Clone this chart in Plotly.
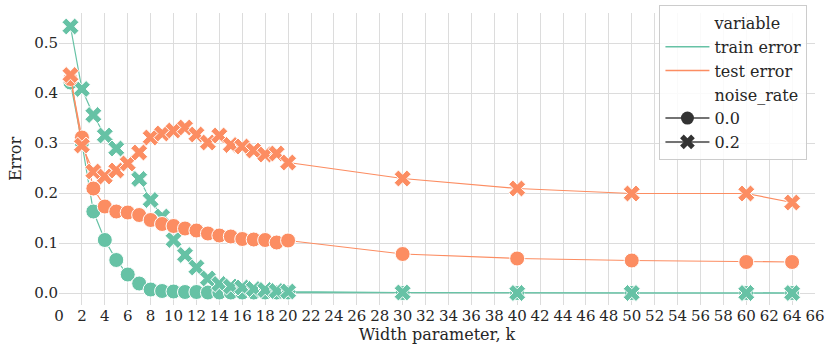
import plotly.graph_objects as go

k = [1, 2, 3, 4, 5, 6, 7, 8, 9, 10, 11, 12, 13, 14, 15, 16, 17, 18, 19, 20, 30, 40, 50, 60, 64]

train_n00 = [0.421, 0.300, 0.163, 0.106, 0.066, 0.037, 0.019, 0.007, 0.004, 0.003, 0.002, 0.002, 0.001,
             0.001, 0.001, 0.001, 0.001, 0.001, 0.001, 0.001, 0.0, 0.0, 0.0, 0.0, 0.0]
train_n02 = [0.533, 0.408, 0.356, 0.315, 0.289, 0.260, 0.228, 0.186, 0.153, 0.106, 0.076, 0.051, 0.029,
             0.018, 0.013, 0.011, 0.008, 0.006, 0.004, 0.003, 0.001, 0.0, 0.0, 0.0, 0.0]
test_n00 = [0.428, 0.311, 0.209, 0.173, 0.163, 0.161, 0.156, 0.146, 0.138, 0.134, 0.129, 0.125, 0.119,
            0.115, 0.113, 0.108, 0.107, 0.106, 0.101, 0.105, 0.078, 0.069, 0.065, 0.062, 0.062]
test_n02 = [0.436, 0.295, 0.243, 0.233, 0.245, 0.259, 0.281, 0.311, 0.319, 0.325, 0.331, 0.317, 0.301,
            0.315, 0.296, 0.293, 0.285, 0.277, 0.279, 0.261, 0.229, 0.209, 0.199, 0.199, 0.181]

GREEN = "#66c2a5"
ORANGE = "#fc8d62"
FONT = "DejaVu Serif"

series = [
    (train_n00, GREEN, "circle"),
    (train_n02, GREEN, "x"),
    (test_n00, ORANGE, "circle"),
    (test_n02, ORANGE, "x"),
]

fig = go.Figure()
for vals, color, sym in series:
    fig.add_trace(go.Scatter(
        x=k, y=vals, mode="lines+markers", showlegend=False,
        line=dict(color=color, width=1.2),
        marker=dict(color=color, symbol=sym, size=15, line=dict(color="white", width=1)),
    ))

# legend entries (seaborn style)
def legend_item(name, color="rgba(0,0,0,0)", sym=None, mode="lines"):
    m = dict(symbol=sym, size=13, color="#333333") if sym else None
    fig.add_trace(go.Scatter(
        x=[None], y=[None], mode=mode, name=name,
        line=dict(color=color, width=1.5), marker=m,
    ))

legend_item("variable")
legend_item("train error", GREEN)
legend_item("test error", ORANGE)
legend_item("noise_rate")
legend_item("0.0", "#444444", "circle", "lines+markers")
legend_item("0.2", "#444444", "x", "lines+markers")

axis_common = dict(
    showgrid=True, gridcolor="#dcdcdc", gridwidth=1, zeroline=False, showline=False,
    ticks="", automargin=False, tickangle=0,
    tickfont=dict(family=FONT, size=15, color="#262626"),
    title_font=dict(family=FONT, size=16, color="#262626"),
)

fig.update_layout(
    width=831, height=357,
    margin=dict(l=59, r=16, t=5, b=52),
    paper_bgcolor="white", plot_bgcolor="white",
    font=dict(family=FONT, color="#262626"),
    xaxis=dict(range=[0, 66], dtick=2, tick0=0, title_text="Width parameter, k",
               title_standoff=4, **axis_common),
    yaxis=dict(range=[-0.024, 0.56], dtick=0.1, tickformat=".1f", title_text="Error",
               title_standoff=8, domain=[0, 292 / 300], **axis_common),
    legend=dict(
        x=0.99, xanchor="right", y=1, yanchor="top",
        bgcolor="rgba(255,255,255,0.85)", bordercolor="#cccccc", borderwidth=1,
        font=dict(family=FONT, size=16, color="#262626"),
        itemwidth=44, tracegroupgap=0,
    ),
)

fig.write_html("out.html", config={"displayModeBar": False},
               post_script="document.body.style.margin='0';")
